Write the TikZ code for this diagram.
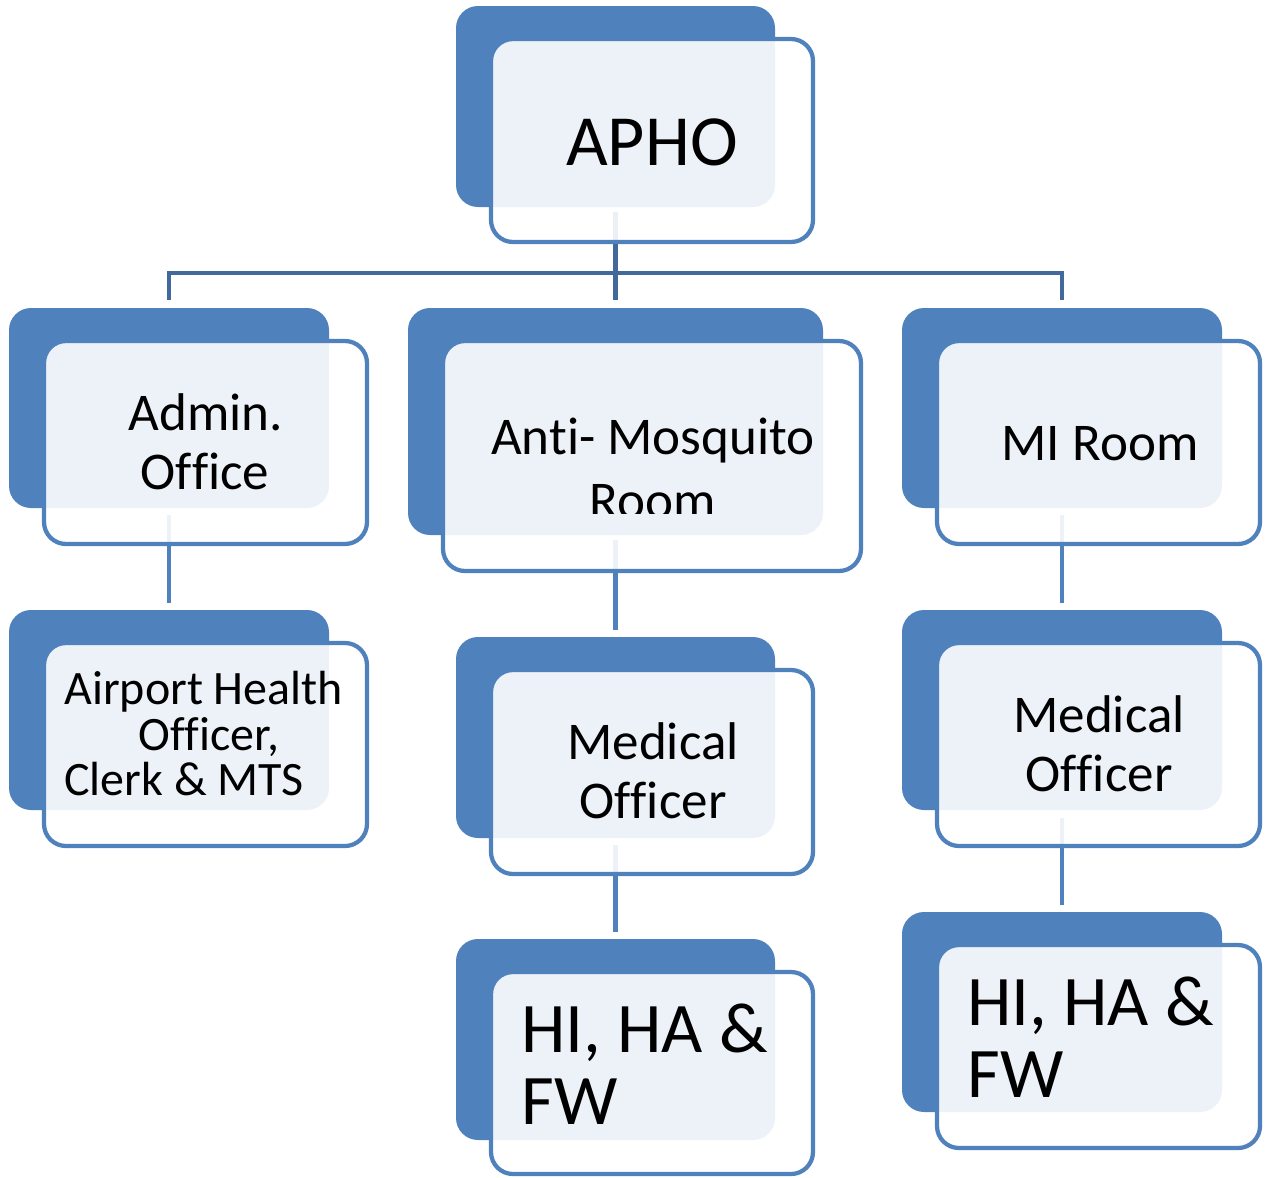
\documentclass[tikz,border=0pt]{standalone}
\usepackage{fontspec}
\setmainfont{Carlito}[RawFeature={-liga;-clig;-dlig;-calt}]
\definecolor{dk}{HTML}{4F81BD}
\definecolor{ln}{HTML}{41699B}
\newcommand\nl{\kern0pt}
\tikzset{
  darkbox/.style={draw=none, fill=dk, rounded corners=0.44cm, inner sep=0pt},
  frontbox/.style={draw=dk, line width=0.085cm, fill=white, fill opacity=0.9, draw opacity=1, rounded corners=0.44cm, inner sep=0pt},
  conn/.style={draw=dk, line width=0.085cm},
  busline/.style={draw=ln, line width=0.09cm},
  lbl/.style={anchor=base, inner sep=0pt, text=black},
  lblw/.style={anchor=base west, inner sep=0pt, text=black},
  fbig/.style={font=\fontsize{41pt}{44pt}\selectfont},
  fmid/.style={font=\fontsize{30.2pt}{33pt}\selectfont},
  fsml/.style={font=\fontsize{27.3pt}{29pt}\selectfont},
  fhi/.style={font=\fontsize{40.5pt}{43pt}\selectfont},
}
\newcommand\darkb[5]{\node[darkbox, minimum width=#4*0.02cm, minimum height=#5*0.02cm] (#1) at (#2,#3) {};}
\newcommand\frontb[5]{\node[frontbox, minimum width=#4*0.02cm, minimum height=#5*0.02cm] (#1) at (#2,#3) {};}
\begin{document}
\begin{tikzpicture}[x=0.02cm, y=-0.02cm]
\useasboundingbox (0,0) rectangle (1268,1177);
% dark back boxes
\darkb{aphoD}{615.5}{106.5}{319}{201}
\darkb{adminD}{169}{408}{320}{200}
\darkb{antiD}{615.5}{421.5}{415}{227}
\darkb{miD}{1062}{408}{320}{200}
\darkb{airD}{169}{710}{320}{200}
\darkb{medmD}{615.5}{737.5}{319}{201}
\darkb{medrD}{1062}{710}{320}{200}
\darkb{himD}{615.5}{1039.5}{319}{201}
\darkb{hirD}{1062}{1012}{320}{200}
% connectors
\coordinate (busY) at (0,273);
\draw[busline] ([yshift=-0.1cm]aphoD.south) -- ([yshift=0.16cm]antiD.north);
\draw[busline] ([yshift=0.16cm]adminD.north) |- (aphoD.south |- busY) -| ([yshift=0.16cm]miD.north);
\draw[conn] ([yshift=-0.14cm]adminD.south) -- ([yshift=0.14cm]airD.north);
\draw[conn] ([yshift=-0.1cm]antiD.south) -- ([yshift=0.14cm]medmD.north);
\draw[conn] ([yshift=-0.14cm]medmD.south) -- ([yshift=0.14cm]himD.north);
\draw[conn] ([yshift=-0.14cm]miD.south) -- ([yshift=0.14cm]medrD.north);
\draw[conn] ([yshift=-0.16cm]medrD.south) -- ([yshift=0.14cm]hirD.north);
% front boxes
\frontb{aphoF}{652}{140.5}{322}{203}
\frontb{adminF}{205.5}{442.5}{323}{203}
\frontb{antiF}{652}{456}{418}{230}
\frontb{miF}{1098.5}{442.5}{323}{203}
\frontb{airF}{205.5}{744.5}{323}{203}
\frontb{medmF}{652}{772}{322}{204}
\frontb{medrF}{1098.5}{744.5}{323}{203}
\frontb{himF}{652}{1073}{322}{202}
\frontb{hirF}{1098.5}{1046.5}{323}{203}
% texts
\node[lbl, fbig] (aphoT) at (652,165) {APHO};
\node[lbl, fmid] (adminT1) at (206,430) {Admin.};
\node[lbl, fmid] (adminT2) at (205,489) {Of\nl f\nl ice};
\node[lbl, fmid] (antiT1) at (653,454) {Ant\nl i- Mosquito};
\begin{scope}
\clip (441,470) rectangle (863,513);
\node[lbl, fmid] (antiT2) at (653,518) {Room};
\end{scope}
\node[lbl, fmid] (miT) at (1100,460) {MI Room};
\node[lblw, fsml] (airT1) at (64,704) {Airport Health};
\node[lblw, fsml] (airT2) at (138,750) {Of\nl f\nl icer,};
\node[lblw, fsml] (airT3) at (64,795) {Clerk \& MTS};
\node[lbl, fmid] (medmT1) at (653,759) {Medical};
\node[lbl, fmid] (medmT2) at (653,818) {Of\nl f\nl icer};
\node[lbl, fmid] (medrT1) at (1099,732) {Medical};
\node[lbl, fmid] (medrT2) at (1099,791) {Of\nl f\nl icer};
\node[lblw, fhi] (himT1) at (521,1052) {HI, HA \&};
\node[lblw, fhi] (himT2) at (521,1124) {FW};
\node[lblw, fhi] (hirT1) at (967,1025) {HI, HA \&};
\node[lblw, fhi] (hirT2) at (967,1097) {FW};
\end{tikzpicture}
\end{document}
